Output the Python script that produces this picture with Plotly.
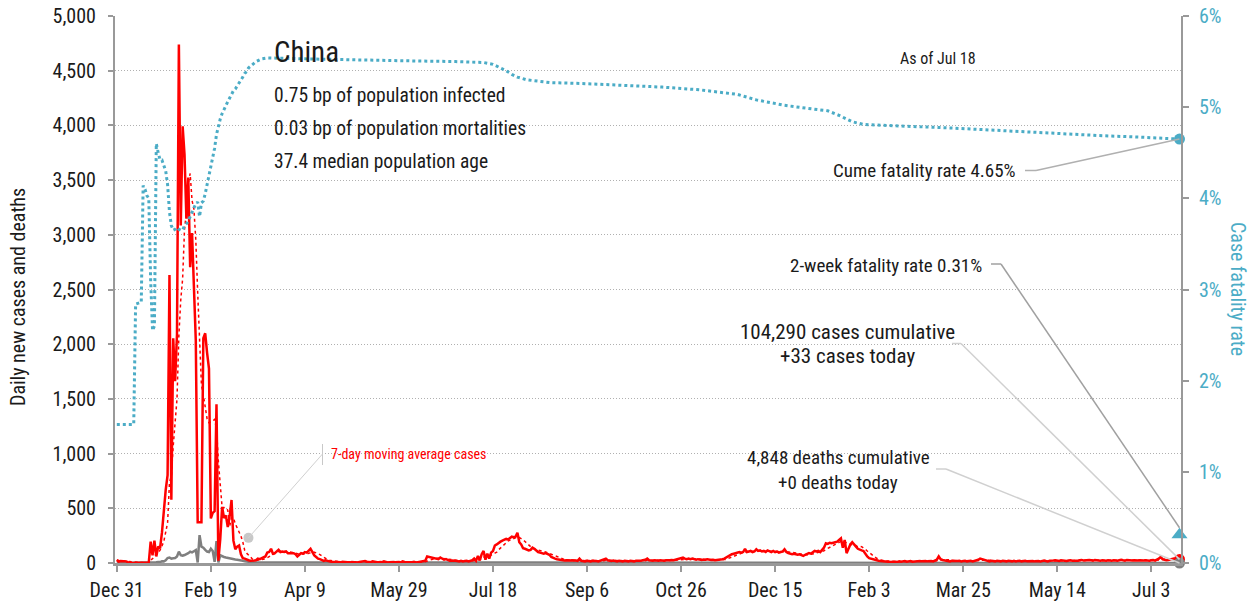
import pandas as pd
import plotly.graph_objects as go

START = "2019-12-31"

# ---------------- data ----------------
cases_2019_dec = [27]
cases_2020_jan = [12, 18, 17, 10, 15, 5, 0, 0, 0, 0,
                  0, 0, 0, 0, 0, 0, 4, 195, 70, 205,
                  60, 150, 135, 277, 486, 669, 802, 2632, 578, 2054, 1661]
cases_2020_feb = [2089, 4739, 3086, 3991, 3733, 3147, 3523, 2704, 3015, 2525,
                  2032, 373, 373, 373, 2055, 2100, 1921, 1777, 408, 458,
                  473, 1451, 21, 219, 513, 412, 434, 328, 428]
cases_2020_mar = [576, 204, 125, 150, 160, 80, 45, 40, 30, 25,
                  20, 18, 22, 25, 40, 35, 45, 50, 60, 95,
                  100, 130, 85, 90, 110, 120, 100, 105, 100, 105, 90]
cases_2020_apr = [90, 85, 90, 80, 60, 75, 90, 85, 100, 95,
                  110, 130, 100, 70, 55, 40, 35, 25, 20, 25,
                  18, 15, 12, 10, 12, 8, 10, 6, 12, 10]
cases_2020_may = [10, 8, 5, 10, 6, 8, 5, 10, 15, 20,
                  18, 12, 10, 8, 15, 12, 8, 5, 10, 8,
                  15, 10, 5, 8, 12, 10, 6, 8, 10, 5, 15]
cases_2020_jun = [10, 8, 5, 8, 6, 10, 5, 8, 10, 12,
                  15, 20, 60, 55, 50, 45, 40, 38, 35, 50,
                  40, 30, 35, 25, 20, 22, 18, 20, 18, 15]
cases_2020_jul = [20, 15, 18, 20, 15, 22, 25, 40, 20, 65,
                  25, 80, 110, 30, 85, 40, 95, 110, 160, 170,
                  185, 195, 205, 210, 220, 215, 230, 240, 235, 240, 277]
cases_2020_aug = [190, 170, 135, 130, 125, 115, 120, 140, 130, 110,
                  100, 95, 90, 85, 90, 80, 75, 55, 45, 40,
                  35, 30, 28, 25, 22, 25, 20, 22, 25, 20, 22]
cases_2020_sep = [20, 40, 20, 18, 15, 20, 18, 15, 20, 22,
                  18, 15, 20, 25, 30, 40, 25, 20, 18, 22,
                  18, 15, 20, 18, 15, 20, 18, 15, 20, 18]
cases_2020_oct = [15, 20, 18, 20, 22, 25, 30, 40, 25, 22,
                  20, 25, 22, 20, 25, 22, 20, 25, 22, 25,
                  28, 25, 30, 35, 40, 45, 50, 40, 35, 40, 35]
cases_2020_nov = [40, 35, 30, 35, 30, 28, 32, 30, 35, 30,
                  28, 30, 25, 28, 30, 28, 35, 40, 50, 60,
                  75, 80, 85, 90, 95, 100, 95, 100, 130, 100]
cases_2020_dec = [105, 110, 100, 105, 125, 110, 115, 105, 110, 100,
                  115, 105, 100, 110, 100, 105, 95, 100, 105, 125,
                  100, 90, 85, 80, 85, 80, 75, 80, 70, 65, 75]
cases_2021_jan = [80, 90, 85, 100, 110, 105, 110, 100, 120, 140,
                  180, 175, 185, 180, 185, 190, 195, 210, 225, 140,
                  210, 90, 140, 170, 190, 165, 150, 130, 120, 115, 110]
cases_2021_feb = [80, 60, 45, 40, 30, 25, 22, 20, 18, 15,
                  14, 15, 12, 10, 12, 15, 12, 10, 15, 12,
                  15, 18, 12, 15, 18, 12, 15, 18]
cases_2021_mar = [15, 18, 15, 20, 18, 15, 20, 18, 15, 22,
                  30, 60, 35, 28, 25, 20, 18, 15, 20, 18,
                  15, 18, 20, 15, 18, 20, 15, 18, 20, 15, 18]
cases_2021_apr = [20, 30, 40, 35, 25, 20, 18, 15, 20, 18,
                  15, 20, 18, 15, 20, 18, 15, 20, 18, 15,
                  20, 15, 18, 20, 15, 18, 20, 15, 18, 20]
cases_2021_may = [18, 15, 20, 18, 15, 20, 22, 18, 15, 20,
                  18, 22, 25, 20, 18, 25, 22, 20, 18, 22,
                  25, 20, 18, 22, 20, 25, 28, 22, 25, 30, 28]
cases_2021_jun = [25, 22, 28, 25, 22, 20, 25, 22, 20, 25,
                  22, 20, 25, 22, 20, 25, 30, 25, 22, 28,
                  25, 20, 22, 25, 20, 22, 25, 20, 22, 25]
cases_2021_jul = [22, 20, 25, 28, 22, 30, 40, 55, 35, 30,
                  25, 28, 30, 35, 40, 35, 30, 33]

# daily deaths, Dec 31 2019 - Mar 31 2020
deaths_2019_dec = [0]
deaths_2020_jan = [0, 0, 0, 0, 0, 0, 0, 0, 0, 0,
                   1, 0, 0, 0, 0, 0, 1, 0, 1,
                   3, 6, 9, 8, 16, 15, 24, 45, 50, 40, 43, 46]
deaths_2020_feb = [60, 103, 72, 66, 73, 80, 90, 103, 97, 108,
                   119, 5, 254, 150, 140, 120, 105, 100, 130, 110,
                   10, 200, 5, 70, 60, 55, 50, 45, 40]
deaths_2020_mar = [42, 35, 32, 30, 28, 25, 20, 15, 12, 10,
                   8, 7, 6, 5, 5, 4, 4, 3, 3, 3,
                   2, 2, 2, 2, 3, 2, 2, 1, 2, 1, 2]
# later deaths (near zero), sampled mid-month
deaths_later_dates = ["2020-04-15", "2020-05-15", "2020-06-15", "2020-07-15",
                      "2020-08-15", "2020-09-15", "2020-10-15", "2020-11-15",
                      "2020-12-15", "2021-01-15", "2021-02-15", "2021-03-15",
                      "2021-04-15", "2021-05-15", "2021-06-15", "2021-07-18"]
deaths_later_values = [1, 0, 0, 0, 1, 0, 0, 0, 0, 1, 0, 0, 0, 0, 0, 0]

# cumulative case fatality rate (%), day offset from Dec 31 2019
cfr_day = [0, 9, 10, 13, 14, 15, 16, 17, 18, 19, 20, 21, 22, 23, 24, 25, 26, 27, 28, 29,
           30, 31, 32, 33, 34, 35, 36, 37, 38, 39, 40, 41, 42, 43, 44, 45, 46, 47, 48, 49,
           50, 51, 52, 53, 54, 55, 56, 57, 58, 59, 60, 61, 62, 63, 64, 65, 66, 67, 68, 69,
           70, 72, 74, 77, 80, 100, 120, 150, 180, 195, 200, 204, 207, 210, 213, 218, 230,
           247, 270, 290, 310, 330, 340, 355, 370, 378, 384, 391, 397, 410, 425, 445, 464,
           490, 521, 545, 565]
cfr_pct = [1.52, 1.52, 2.84, 2.86, 4.14, 4.10, 4.03, 4.00, 3.10, 2.55, 2.60, 4.60, 4.50,
           4.42, 4.42, 4.35, 4.30, 4.15, 3.85, 3.70,
           3.65, 3.66, 3.68, 3.66, 3.65, 3.65, 3.70, 3.72, 3.75, 3.80, 3.85, 3.90, 3.94,
           3.96, 3.80, 3.95, 3.97, 4.05, 4.15, 4.25,
           4.35, 4.45, 4.55, 4.70, 4.80, 4.87, 4.93, 4.98, 5.03, 5.06, 5.10, 5.14, 5.18,
           5.20, 5.23, 5.26, 5.30, 5.33, 5.37, 5.39,
           5.43, 5.47, 5.50, 5.53, 5.54, 5.53, 5.52, 5.51, 5.50, 5.49, 5.47, 5.43, 5.40,
           5.36, 5.33, 5.30, 5.27,
           5.26, 5.24, 5.22, 5.19, 5.14, 5.08, 5.02, 4.98, 4.96, 4.91, 4.84, 4.81, 4.80,
           4.79, 4.77, 4.75,
           4.72, 4.69, 4.67, 4.65]

two_week_cfr = 0.31
x_tick_step_days = 50

label_title = "China"
label_stats = ["0.75 bp of population infected",
               "0.03 bp of population mortalities",
               "37.4 median population age"]
label_asof = "As of Jul 18"
label_cume = "Cume fatality rate 4.65%"
label_2wk = "2-week fatality rate 0.31%"
label_cases = ["104,290 cases cumulative", "+33 cases today"]
label_deaths = ["4,848 deaths cumulative", "+0 deaths today"]
label_avg = "7-day moving average cases"
avg_label_date = "2020-03-10"
avg_label_value = 230

# ---------------- build series ----------------
cases = (cases_2019_dec + cases_2020_jan + cases_2020_feb + cases_2020_mar + cases_2020_apr
         + cases_2020_may + cases_2020_jun + cases_2020_jul + cases_2020_aug + cases_2020_sep
         + cases_2020_oct + cases_2020_nov + cases_2020_dec + cases_2021_jan + cases_2021_feb
         + cases_2021_mar + cases_2021_apr + cases_2021_may + cases_2021_jun + cases_2021_jul)
start = pd.Timestamp(START)
dates = pd.date_range(start, periods=len(cases), freq="D")
avg7 = pd.Series(cases).rolling(7, min_periods=1).mean()

deaths_early = deaths_2019_dec + deaths_2020_jan + deaths_2020_feb + deaths_2020_mar
deaths_dates = list(pd.date_range(start, periods=len(deaths_early), freq="D")) + \
    [pd.Timestamp(d) for d in deaths_later_dates]
deaths_vals = deaths_early + deaths_later_values

cfr_dates = [start + pd.Timedelta(days=d) for d in cfr_day]

# ---------------- styling ----------------
FONT = "Roboto Condensed, Liberation Sans Narrow, Arial Narrow, Lato, sans-serif"
BLUE = "#4bacc6"
RED = "#ff0000"
GRAY = "#7f7f7f"
TXT = "#1a1a1a"
W, H = 1255, 604
L, R, T, B = 115, 1181, 16, 563
YMAX, Y2MAX = 5000, 6

x0 = start - pd.Timedelta(days=0.96)
x1 = start + pd.Timedelta(days=565.8)


def pxx(px):
    return (px - L) / (R - L)


def pxy(py):
    return (B - py) / (B - T)


def date_px(ts):
    return L + (pd.Timestamp(ts) - x0) / (x1 - x0) * (R - L)


def val_py(v, ymax):
    return B - v / ymax * (B - T)


fig = go.Figure()

fig.add_trace(go.Scatter(x=cfr_dates, y=cfr_pct, yaxis="y2", mode="lines",
                         line=dict(color=BLUE, width=3, dash="dot"), hoverinfo="skip"))
fig.add_trace(go.Scatter(x=deaths_dates, y=deaths_vals, mode="lines",
                         line=dict(color=GRAY, width=2.5), hoverinfo="skip"))
fig.add_trace(go.Scatter(x=dates, y=cases, mode="lines",
                         line=dict(color=RED, width=2.5), hoverinfo="skip"))
fig.add_trace(go.Scatter(x=dates, y=avg7, mode="lines",
                         line=dict(color=RED, width=1.5, dash="dot"), hoverinfo="skip"))

last = dates[-1]
fig.add_trace(go.Scatter(x=[last], y=[cases[-1]], mode="markers", cliponaxis=False,
                         marker=dict(color=RED, size=11)))
fig.add_trace(go.Scatter(x=[last], y=[deaths_vals[-1]], mode="markers", cliponaxis=False,
                         marker=dict(color=GRAY, size=11)))
fig.add_trace(go.Scatter(x=[last], y=[cfr_pct[-1]], yaxis="y2", mode="markers",
                         cliponaxis=False, marker=dict(color=BLUE, size=11)))
fig.add_trace(go.Scatter(x=[last], y=[two_week_cfr], yaxis="y2", mode="markers",
                         cliponaxis=False,
                         marker=dict(color=BLUE, size=14, symbol="triangle-up")))
fig.add_trace(go.Scatter(x=[avg_label_date], y=[avg_label_value], mode="markers",
                         cliponaxis=False, marker=dict(color="#c8c8c8", size=10)))

# ---------------- leader lines ----------------
shapes = []


def seg(xa, ya, xb, yb, color, width=1.5):
    shapes.append(dict(type="line", xref="paper", yref="paper",
                       x0=pxx(xa), y0=pxy(ya), x1=pxx(xb), y1=pxy(yb),
                       line=dict(color=color, width=width), layer="above"))


lx = date_px(last)
cy = 170.5
seg(1025, cy, 1036, cy, "#b0b0b0")
seg(1036, cy, lx, val_py(cfr_pct[-1], Y2MAX), "#b0b0b0")
ty = 264
seg(991, ty, 1001, ty, "#a0a0a0")
seg(1001, ty, lx, val_py(two_week_cfr, Y2MAX) - 7, "#a0a0a0")
ky = 343.5
seg(952, ky, 961, ky, "#d0d0d0")
seg(961, ky, lx, val_py(cases[-1], YMAX), "#d0d0d0")
dy = 469
seg(936, dy, 946, dy, "#d0d0d0")
seg(946, dy, lx, val_py(deaths_vals[-1], YMAX), "#d0d0d0")
seg(322.5, 444, 322.5, 465, "#c8c8c8", 1)
seg(322.5, 454, date_px(avg_label_date), val_py(avg_label_value, YMAX), "#d0d0d0", 1)

# ---------------- text ----------------
ann = []


def txt(text, px, py, size, xanchor="left", color=TXT, angle=0):
    ann.append(dict(text=text, xref="paper", yref="paper", x=pxx(px), y=pxy(py),
                    xanchor=xanchor, yanchor="middle", showarrow=False, textangle=angle,
                    font=dict(family=FONT, size=size, color=color)))


txt(label_title, 272, 52, 29)
for i, s in enumerate(label_stats):
    txt(s, 272, 95 + i * 33.5, 19.5)
txt(label_asof, 938, 59, 16, "center")
txt(label_cume, 1018, 170.5, 19, "right")
txt(label_2wk, 984, 265, 19, "right")
txt(label_cases[0], 847, 332, 21, "center")
txt(label_cases[1], 847, 356.5, 21, "center")
txt(label_deaths[0], 838, 457.5, 19, "center")
txt(label_deaths[1], 838, 482.5, 19, "center")
txt(label_avg, 329, 454, 14, "left", RED)
txt("Daily new cases and deaths", 18, 297, 20, "center", TXT, -90)
txt("Case fatality rate", 1238, 289, 20, "center", BLUE, 90)

fig.update_layout(
    width=W, height=H, autosize=False,
    margin=dict(l=L, r=W - R, t=T, b=H - B, pad=0, autoexpand=False),
    paper_bgcolor="white", plot_bgcolor="white",
    showlegend=False,
    font=dict(family=FONT, size=20, color=TXT),
    shapes=shapes, annotations=ann,
    xaxis=dict(type="date", range=[x0, x1], tick0=START, automargin=False,
               dtick=x_tick_step_days * 86400000, tickformat="%b %-d",
               showgrid=False, zeroline=False, showline=True, linecolor="#999999",
               linewidth=2.5, ticks="outside", ticklen=6, tickwidth=2, tickcolor="#999999",
               tickfont=dict(family=FONT, size=20, color=TXT), ticklabelstandoff=1),
    yaxis=dict(range=[0, YMAX], dtick=500, tickformat=",", showgrid=True, automargin=False,
               gridcolor="#b0b0b0", griddash="1px,2px", gridwidth=1, zeroline=False,
               showline=True, linecolor="#999999", linewidth=2, ticks="outside",
               ticklen=5, tickwidth=2, tickcolor="#999999",
               tickfont=dict(family=FONT, size=20, color=TXT), ticklabelstandoff=8),
    yaxis2=dict(range=[0, Y2MAX], dtick=1, ticksuffix="%", overlaying="y", side="right",
                showgrid=False, zeroline=False, showline=True, linecolor="#999999",
                automargin=False,
                linewidth=2, ticks="outside", ticklen=6, tickwidth=2, tickcolor="#999999",
                tickfont=dict(family=FONT, size=20, color=BLUE), ticklabelstandoff=6),
)

fig.write_html("out.html", config={"displayModeBar": False},
               post_script="document.body.style.margin='0';")
